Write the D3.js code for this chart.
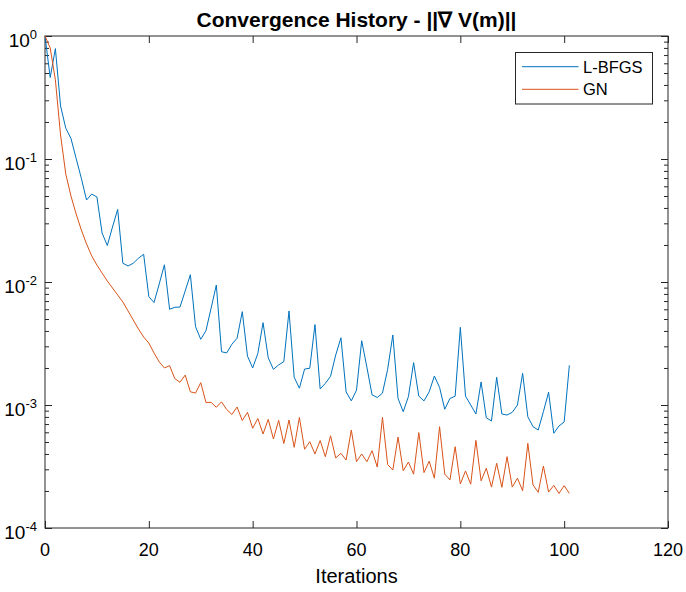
<!DOCTYPE html>
<html><head><meta charset="utf-8">
<script src="https://cdn.jsdelivr.net/npm/d3@7/dist/d3.min.js"></script>
<style>
body{margin:0;background:#fff}
svg{display:block}
text{font-family:"Liberation Sans",Arial,Helvetica,sans-serif;fill:#000}
</style>
</head><body>
<svg id="c" width="686" height="592"></svg>
<script>
// ---- data ----
const lbfgs = [1.0,0.46,0.79,0.270,0.178,0.147,0.101,0.0697,0.0464,0.0519,
0.0491,0.0250,0.0198,0.0280,0.0389,0.0142,0.0135,0.0142,0.0156,0.0168,
0.00760,0.00681,0.00963,0.0138,0.00600,0.00623,0.00625,0.00845,0.01146,0.00433,
0.00342,0.00402,0.00614,0.00945,0.00271,0.00265,0.00312,0.00349,0.00574,0.00250,
0.00200,0.00263,0.00467,0.00242,0.00195,0.00212,0.00225,0.00581,0.00168,0.00137,
0.00196,0.00199,0.00451,0.00135,0.00150,0.00171,0.00255,0.00352,0.00128,0.00108,
0.00132,0.00333,0.00203,0.00121,0.00115,0.00125,0.00195,0.00371,0.00113,0.000882,
0.00117,0.00221,0.00118,0.00108,0.00128,0.00172,0.00139,0.000923,0.00113,0.00118,
0.00428,0.00118,0.00100,0.000845,0.00154,0.000788,0.000741,0.00168,0.000845,0.000829,
0.000872,0.00100,0.00181,0.000803,0.000666,0.000626,0.000882,0.00127,0.000589,0.000675,
0.000727,0.00210];
const gn = [1.0,0.80,0.44,0.1567,0.0755,0.0500,0.0357,0.0265,0.0204,0.0163,
0.01374,0.01183,0.01019,0.00894,0.00784,0.00688,0.00581,0.00491,0.00415,0.00357,
0.00319,0.00265,0.00224,0.00200,0.00209,0.00164,0.00153,0.00175,0.00128,0.00125,
0.00152,0.00105,0.00105,0.000958,0.00106,0.000919,0.000837,0.000963,0.000748,0.000872,
0.000647,0.000777,0.000581,0.000765,0.000529,0.000751,0.000486,0.000755,0.000453,0.000791,
0.000437,0.000503,0.000400,0.000514,0.000380,0.000562,0.000371,0.000405,0.000357,0.000626,
0.000346,0.000400,0.000346,0.000425,0.000313,0.000794,0.000328,0.000296,0.000549,0.000292,
0.000344,0.000274,0.000597,0.000282,0.000349,0.000254,0.000666,0.000274,0.000246,0.000458,
0.000228,0.000291,0.000227,0.000516,0.000242,0.000306,0.000215,0.000336,0.000214,0.000380,
0.000215,0.000254,0.000201,0.000488,0.000224,0.000195,0.000319,0.000196,0.000222,0.000191,
0.000221,0.000191];
const seriesNames = ["L-BFGS", "GN"];
const seriesColors = ["#0072BD", "#D95319"];
const xTickValues = [0, 20, 40, 60, 80, 100, 120];
const yTickExponents = [0, -1, -2, -3, -4];
const titleText = "Convergence History - ||\u2207 V(m)||";
const xLabelText = "Iterations";

// ---- layout ----
const L = 45, R = 668, T = 36, B = 528;
const axisColor = "#262626";
const svg = d3.select("#c");
const x = d3.scaleLinear().domain([0, 120]).range([L, R]);
const y = d3.scaleLog().domain([1e-4, 1]).range([B, T]);

const yMajor = yTickExponents.map(e => Math.pow(10, e));
const yMinor = y.ticks().filter(v => Math.abs(Math.log10(v) - Math.round(Math.log10(v))) > 1e-6);

function styleAxis(g) {
  g.select(".domain").remove();
  g.selectAll(".tick line").attr("stroke", axisColor).attr("stroke-width", 1);
  g.selectAll(".tick text").remove();
}
// ticks (inside, mirrored)
svg.append("g").attr("transform", `translate(0,${B})`)
  .call(d3.axisBottom(x).tickValues(xTickValues).tickSize(-7).tickSizeOuter(0)).call(styleAxis);
svg.append("g").attr("transform", `translate(0,${T})`)
  .call(d3.axisTop(x).tickValues(xTickValues).tickSize(-7).tickSizeOuter(0)).call(styleAxis);
svg.append("g").attr("transform", `translate(${L},0)`)
  .call(d3.axisLeft(y).tickValues(yMajor).tickSize(-7).tickSizeOuter(0)).call(styleAxis);
svg.append("g").attr("transform", `translate(${R},0)`)
  .call(d3.axisRight(y).tickValues(yMajor).tickSize(-7).tickSizeOuter(0)).call(styleAxis);
svg.append("g").attr("transform", `translate(${L},0)`)
  .call(d3.axisLeft(y).tickValues(yMinor).tickSize(-4).tickSizeOuter(0)).call(styleAxis);
svg.append("g").attr("transform", `translate(${R},0)`)
  .call(d3.axisRight(y).tickValues(yMinor).tickSize(-4).tickSizeOuter(0)).call(styleAxis);

// box
svg.append("rect").attr("x", L).attr("y", T).attr("width", R - L).attr("height", B - T)
  .attr("fill", "none").attr("stroke", axisColor).attr("stroke-width", 1);

// x tick labels
svg.append("g").selectAll("text").data(xTickValues).join("text")
  .attr("x", d => x(d)).attr("y", B + 28).attr("text-anchor", "middle")
  .attr("font-size", 18).text(d => d);

// y tick labels with superscripts
const yl = svg.append("g").selectAll("text").data(yTickExponents).join("text")
  .attr("x", 37).attr("y", d => y(Math.pow(10, d)) + 10.5).attr("text-anchor", "end")
  .attr("font-size", 19);
yl.append("tspan").text("10");
yl.append("tspan").attr("dy", -7.5).attr("font-size", 13).text(d => String(d));

// lines
const line = d3.line().x((d, i) => x(i)).y(d => y(d));
[lbfgs, gn].forEach((s, k) => {
  svg.append("path").datum(s).attr("d", line).attr("fill", "none")
    .attr("stroke", seriesColors[k]).attr("stroke-width", 1).attr("stroke-linejoin", "round");
});

// title & label
svg.append("text").attr("x", (L + R) / 2).attr("y", 27).attr("text-anchor", "middle")
  .attr("font-size", 21).attr("font-weight", "bold").text(titleText);
svg.append("text").attr("x", (L + R) / 2).attr("y", 583).attr("text-anchor", "middle")
  .attr("font-size", 20).text(xLabelText);

// legend
const lg = svg.append("g");
lg.append("rect").attr("x", 515.5).attr("y", 52.5).attr("width", 137).attr("height", 51.5)
  .attr("fill", "#fff").attr("stroke", axisColor).attr("stroke-width", 1);
seriesNames.forEach((n, k) => {
  const yy = 66.7 + k * 22.6;
  lg.append("line").attr("x1", 522).attr("x2", 578.5).attr("y1", yy).attr("y2", yy)
    .attr("stroke", seriesColors[k]).attr("stroke-width", 1);
  lg.append("text").attr("x", 583).attr("y", yy + 6).attr("font-size", 16.5).text(n);
});
</script>
</body></html>
